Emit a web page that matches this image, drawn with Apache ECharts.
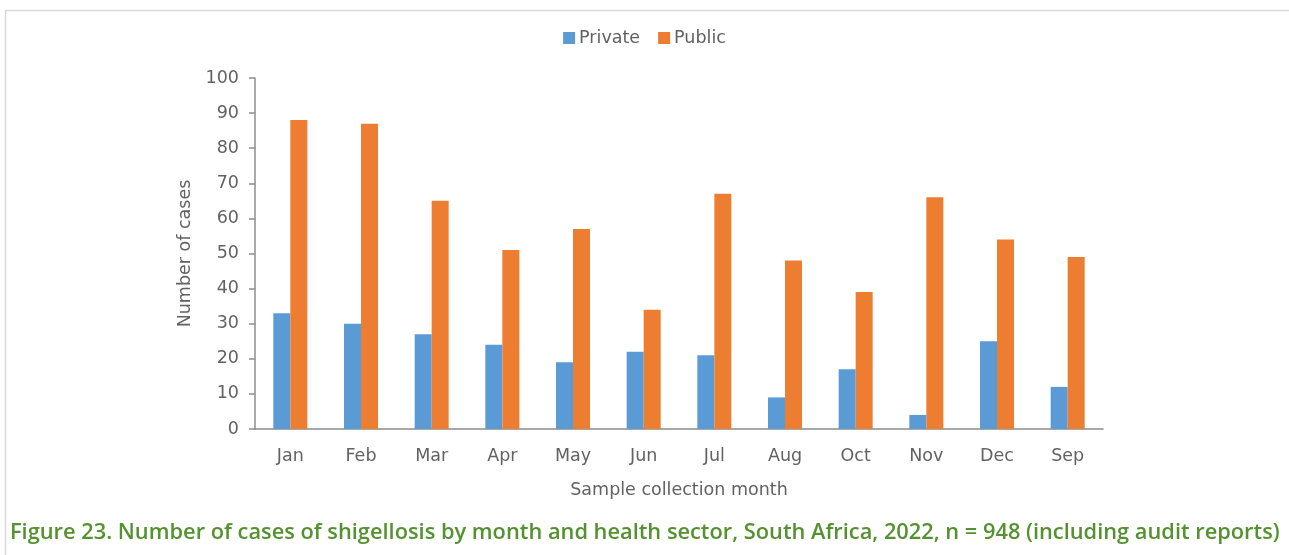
<!DOCTYPE html>
<html>
<head>
<meta charset="utf-8">
<script src="https://cdn.jsdelivr.net/npm/echarts@6/dist/echarts.min.js"></script>
<style>
  html, body { margin: 0; padding: 0; background: #ffffff; }
  #chart { width: 1289px; height: 555px; }
</style>
</head>
<body>
<div id="chart"></div>
<script>
// Shigellosis cases by sample collection month and health sector
const months = ['Jan', 'Feb', 'Mar', 'Apr', 'May', 'Jun', 'Jul', 'Aug', 'Oct', 'Nov', 'Dec', 'Sep'];
const privateCases = [33, 30, 27, 24, 19, 22, 21, 9, 17, 4, 25, 12];
const publicCases = [88, 87, 65, 51, 57, 34, 67, 48, 39, 66, 54, 49];
const yTicks = [0, 10, 20, 30, 40, 50, 60, 70, 80, 90, 100];

const axisFont = '"DejaVu Sans", Lato, sans-serif';
const labelColor = '#626262';
const axisColor = '#8c8c8c';

const chart = echarts.init(document.getElementById('chart'), null, { renderer: 'canvas' });

chart.setOption({
  animation: false,
  backgroundColor: '#ffffff',
  color: ['#5b9bd5', '#ed7d31'],
  graphic: [
    {
      type: 'rect',
      shape: { x: 5.5, y: 10.5, width: 1320, height: 600 },
      style: { fill: 'none', stroke: '#d9d9d9', lineWidth: 1.5 },
      silent: true,
      z: -1
    },
    {
      type: 'text',
      left: 10,
      top: 522,
      style: {
        text: 'Figure 23. Number of cases of shigellosis by month and health sector, South Africa, 2022, n = 948 (including audit reports)',
        font: '600 21.8px "Open Sans", "Noto Sans", sans-serif',
        fill: '#54922f'
      }
    }
  ],
  legend: {
    top: 24,
    left: 'center',
    itemWidth: 12,
    itemHeight: 12,
    itemGap: 18,
    icon: 'rect',
    textStyle: { fontFamily: axisFont, fontSize: 17.5, color: labelColor, padding: [0, 0, 0, -1] },
    data: ['Private', 'Public']
  },
  grid: { left: 255, right: 186, top: 78, bottom: 126, containLabel: false },
  xAxis: {
    type: 'category',
    data: months,
    name: 'Sample collection month',
    nameLocation: 'middle',
    nameGap: 52,
    nameTextStyle: { fontFamily: axisFont, fontSize: 17.5, color: labelColor },
    axisLine: { lineStyle: { color: axisColor, width: 1.5 } },
    axisTick: { alignWithLabel: true, length: 6, lineStyle: { color: axisColor, width: 1.5 } },
    axisLabel: { fontFamily: axisFont, fontSize: 17.5, color: labelColor, margin: 18 }
  },
  yAxis: {
    type: 'value',
    min: 0,
    max: 100,
    interval: 10,
    name: 'Number of cases',
    nameLocation: 'middle',
    nameGap: 60,
    nameRotate: 90,
    nameTextStyle: { fontFamily: axisFont, fontSize: 17.5, color: labelColor },
    axisLine: { show: true, lineStyle: { color: axisColor, width: 1.5 } },
    axisTick: { show: true, length: 6, lineStyle: { color: axisColor, width: 1.5 } },
    splitLine: { show: false },
    axisLabel: {
      fontFamily: axisFont, fontSize: 17.5, color: labelColor, margin: 16,
      formatter: v => (yTicks.includes(v) ? String(v) : '')
    }
  },
  series: [
    {
      name: 'Private',
      type: 'bar',
      data: privateCases,
      barWidth: 17,
      barGap: '0%'
    },
    {
      name: 'Public',
      type: 'bar',
      data: publicCases,
      barWidth: 17,
      barGap: '0%'
    }
  ]
});
</script>
</body>
</html>
